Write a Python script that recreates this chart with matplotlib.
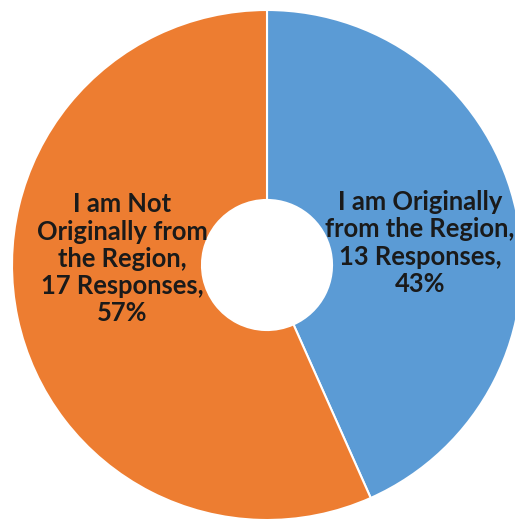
import matplotlib
matplotlib.use("Agg")
import matplotlib.pyplot as plt

categories = ["I am Originally\nfrom the Region", "I am Not\nOriginally from\nthe Region"]
responses = [13, 17]
percents = [43, 57]
colors = ["#5B9BD5", "#ED7D31"]

W, H = 515, 521
cx, cy, R = 267, 265, 255

fig = plt.figure(figsize=(W / 100, H / 100), dpi=100)
ax = fig.add_axes([0, 0, 1, 1])

ax.pie(responses, colors=colors, startangle=90, counterclock=False, radius=1,
       wedgeprops=dict(width=1 - 0.255, edgecolor="white", linewidth=1.5))

ax.set_xlim(-cx / R, (W - cx) / R)
ax.set_ylim(-(H - cy) / R, cy / R)
ax.set_aspect("equal")
ax.axis("off")

label_pos = [(0.60, 0.086), (-0.569, 0.024)]
for cat, n, p, (x, y) in zip(categories, responses, percents, label_pos):
    ax.text(x, y, f"{cat},\n{n} Responses,\n{p}%", ha="center", va="center",
            fontsize=18.4, fontfamily="Lato", fontweight="bold", color="#1a1a1a",
            linespacing=1.16)

fig.savefig("out.png", dpi=100)
